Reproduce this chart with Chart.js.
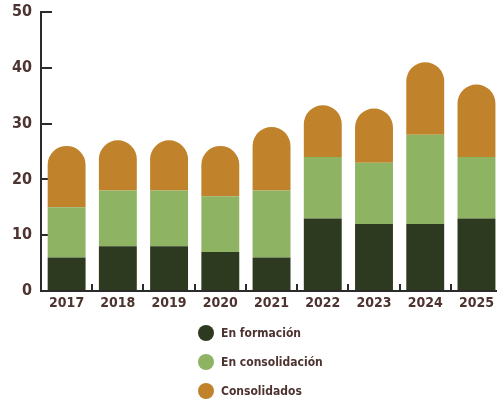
<!DOCTYPE html>
<html>
<head>
<meta charset="utf-8">
<script src="https://cdn.jsdelivr.net/npm/chart.js@4/dist/chart.umd.min.js"></script>
<style>
  html, body { margin: 0; padding: 0; background: #fff; overflow: hidden; }
  #wrap { position: relative; width: 497px; height: 401px; overflow: hidden; }
  #chart { position: absolute; left: 0; top: 0; }
  #legend { position: absolute; left: 198px; top: 324px; font-family: "DejaVu Sans Condensed", "DejaVu Sans", sans-serif; font-weight: bold; font-size: 12px; color: #4e3430; }
  .legend-row { display: flex; align-items: center; height: 29px; margin-top: -6px; margin-bottom: 6px; }
  .legend-dot { width: 16px; height: 16px; border-radius: 50%; margin-right: 7px; }
</style>
</head>
<body>
<div id="wrap">
  <canvas id="chart" width="505" height="401"></canvas>
  <div id="legend"></div>
</div>
<script>
// Años y valores
const years = ['2017', '2018', '2019', '2020', '2021', '2022', '2023', '2024', '2025'];
const enFormacion = [6, 8, 8, 7, 6, 13, 12, 12, 13];
const enConsolidacion = [9, 10, 10, 10, 12, 11, 11, 16, 11];
const consolidados = [11, 9, 9, 9, 11.4, 9.3, 9.7, 13, 13];
const yTicks = [0, 10, 20, 30, 40, 50];

const TEXT = '#4e3430';
const AXIS = '#2b2b2b';
const FONT = '"DejaVu Sans Condensed", "DejaVu Sans", sans-serif';

const series = [
  { label: 'En formación', data: enFormacion, color: '#2d3a20' },
  { label: 'En consolidación', data: enConsolidacion, color: '#8db363' },
  { label: 'Consolidados', data: consolidados, color: '#c0822a' },
];

const chart = new Chart(document.getElementById('chart'), {
  type: 'bar',
  data: {
    labels: years,
    datasets: series.map((s, i) => ({
      label: s.label,
      data: s.data,
      backgroundColor: s.color,
      borderWidth: 0,
      borderRadius: i === series.length - 1 ? { topLeft: 19, topRight: 19, bottomLeft: 0, bottomRight: 0 } : 0,
      borderSkipped: i === series.length - 1 ? 'start' : false,
      barPercentage: 0.74,
      categoryPercentage: 1,
    })),
  },
  options: {
    responsive: false,
    animation: false,
    layout: { padding: { top: 12, right: 0, bottom: 90, left: 0 } },
    plugins: {
      legend: { display: false },
      tooltip: { enabled: false },
    },
    scales: {
      x: {
        stacked: true,
        border: { display: true, color: AXIS, width: 2 },
        grid: { display: true, drawOnChartArea: false, drawTicks: true, tickLength: -7, color: AXIS, lineWidth: 2 },
        ticks: { color: TEXT, font: { family: FONT, size: 14, weight: 'bold' }, padding: 11, maxRotation: 0 },
        afterFit: (scale) => { scale.height = 20; },
      },
      y: {
        stacked: true,
        min: 0,
        max: 50,
        afterBuildTicks: (scale) => { scale.ticks = yTicks.map(v => ({ value: v })); },
        border: { display: true, color: AXIS, width: 2 },
        grid: { display: true, drawOnChartArea: false, drawTicks: true, tickLength: -11, color: AXIS, lineWidth: 2 },
        ticks: { color: TEXT, font: { family: FONT, size: 16, weight: 'bold' }, padding: 20 },
        afterFit: (scale) => { scale.width = 41; scale.paddingTop = 0; },
      },
    },
  },
});

// Leyenda vertical en HTML
const legendEl = document.getElementById('legend');
chart.data.datasets.forEach(ds => {
  legendEl.insertAdjacentHTML('beforeend', `
    <div class="legend-row">
      <span class="legend-dot" style="background:${ds.backgroundColor}"></span>
      <span>${ds.label}</span>
    </div>`);
});
</script>
</body>
</html>
